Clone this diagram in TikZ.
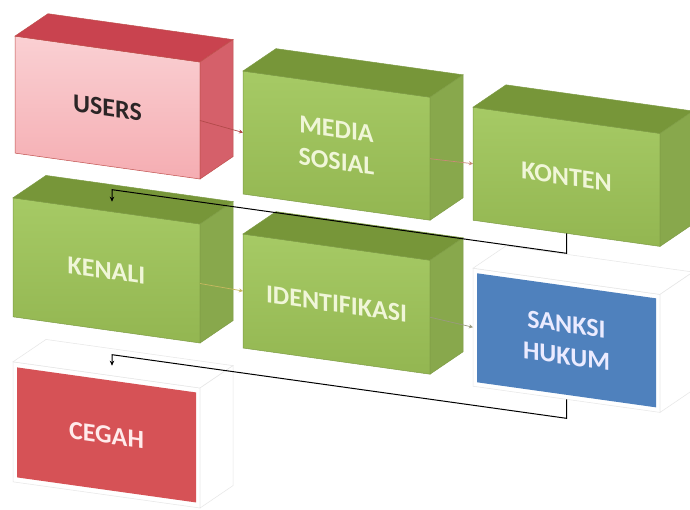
\documentclass[tikz,border=0pt]{standalone}
\usepackage{fontspec}
\setmainfont{Carlito}
\usetikzlibrary{calc,arrows.meta}
\definecolor{ufrontA}{HTML}{FAD0D3}
\definecolor{ufrontB}{HTML}{F5ADB2}
\definecolor{uedge}{HTML}{C0504D}
\definecolor{utop}{HTML}{C9434F}
\definecolor{uside}{HTML}{D5606A}
\definecolor{gfrontA}{HTML}{A6CA65}
\definecolor{gfrontB}{HTML}{93B651}
\definecolor{gedge}{HTML}{7E9C45}
\definecolor{gtop}{HTML}{779639}
\definecolor{gside}{HTML}{88A84C}
\definecolor{gtext}{HTML}{F0F6D8}
\definecolor{sblue}{HTML}{4F81BD}
\definecolor{cred}{HTML}{D65256}
\definecolor{wedge}{HTML}{E6E6E6}
\definecolor{utext}{HTML}{2B2526}
\definecolor{cA}{HTML}{B24A4A}
\definecolor{cB}{HTML}{C98A78}
\definecolor{cC}{HTML}{C8B860}
\definecolor{cD}{HTML}{9A9A80}
\newcommand\dpx{33}
\newcommand\dpy{-27}
\newcommand\cuboidfaces[4]{%
  \filldraw[fill=#2, draw=#4, line width=0.5pt] (#1.north west) -- ($(#1.north west)+(\dpx,\dpy)$) -- ($(#1.north east)+(\dpx,\dpy)$) -- (#1.north east) -- cycle;
  \filldraw[fill=#3, draw=#4, line width=0.5pt] (#1.north east) -- ($(#1.north east)+(\dpx,\dpy)$) -- ($(#1.south east)+(\dpx,\dpy)$) -- (#1.south east) -- cycle;
}
\begin{document}
\begin{tikzpicture}[x=1pt,y=-1pt,
  front/.style={transform shape, inner sep=0pt, outer sep=0pt, anchor=north west, align=center,
    font=\fontsize{26}{32}\selectfont\bfseries, line width=0.5pt},
  userbox/.style={front, top color=ufrontA, bottom color=ufrontB, draw=uedge, text=utext},
  greenbox/.style={front, top color=gfrontA, bottom color=gfrontB, draw=gedge, text=gtext},
  whitebox/.style={front, fill=white, draw=wedge},
  innerface/.style={transform shape, inner sep=0pt, outer sep=0pt, align=center,
    font=\fontsize{26}{32}\selectfont\bfseries},
  conn/.style={-{Stealth[length=4pt,width=4pt]}, line width=0.7pt},
  elbow/.style={-{Stealth[length=5pt,width=4.5pt]}, line width=1pt, black}]
\useasboundingbox (0,0) rectangle (690,509);
\fill[white] (0,0) rectangle (690,509);
\clip (0,0) rectangle (690,509);
\begin{scope}[cm={1,-0.14,0,1,(0,0)}]
  % row 1
  \node[userbox, minimum width=185pt, minimum height=117pt] (users) at (15,34) {USERS};
  \cuboidfaces{users}{utop}{uside}{uedge}
  \node[greenbox, minimum width=187pt, minimum height=123pt] (media) at (243,37) {MEDIA\\SOSIAL};
  \cuboidfaces{media}{gtop}{gside}{gedge}
  \node[greenbox, minimum width=187pt, minimum height=113pt] (konten) at (473,41) {KONTEN};
  \cuboidfaces{konten}{gtop}{gside}{gedge}
  % row 2
  \node[greenbox, minimum width=187pt, minimum height=119pt] (kenali) at (13,196) {KENALI};
  \cuboidfaces{kenali}{gtop}{gside}{gedge}
  \node[greenbox, minimum width=187pt, minimum height=114pt] (ident) at (243,200) {IDENTIFIKASI};
  \cuboidfaces{ident}{gtop}{gside}{gedge}
  \node[whitebox, minimum width=187pt, minimum height=118pt] (sanksi) at (473,202) {};
  \cuboidfaces{sanksi}{white}{white}{wedge}
  \node[innerface, fill=sblue, text=white!92!blue, minimum width=179pt, minimum height=109pt] (sanksiface) at (sanksi.center) {SANKSI\\HUKUM};
  % row 3
  \node[whitebox, minimum width=187pt, minimum height=120pt] (cegah) at (13,360) {};
  \cuboidfaces{cegah}{white}{white}{wedge}
  \node[innerface, fill=cred, text=white!92!red, minimum width=179pt, minimum height=110pt] (cegahface) at (cegah.center) {CEGAH};
  % straight connectors
  \draw[conn, cA] (users.east) -- (media.west);
  \draw[conn, cB] (media.east) -- (konten.west);
  \draw[conn, cC] (kenali.east) -- (ident.west);
  \draw[conn, cD] (ident.east) -- (sanksi.west);
  % elbow connectors
  \coordinate (k1) at (566.5,174);
  \coordinate (k2) at (112,174);
  \coordinate (kenalitop) at (112,186);
  \draw[elbow] (konten.south) -- (k1) -- (k2) -- (kenalitop);
  \coordinate (s1) at (566.5,339);
  \coordinate (s2) at (112,339);
  \coordinate (cegahtop) at (112,350);
  \draw[elbow] (sanksi.south) -- (s1) -- (s2) -- (cegahtop);
\end{scope}
\end{tikzpicture}
\end{document}
